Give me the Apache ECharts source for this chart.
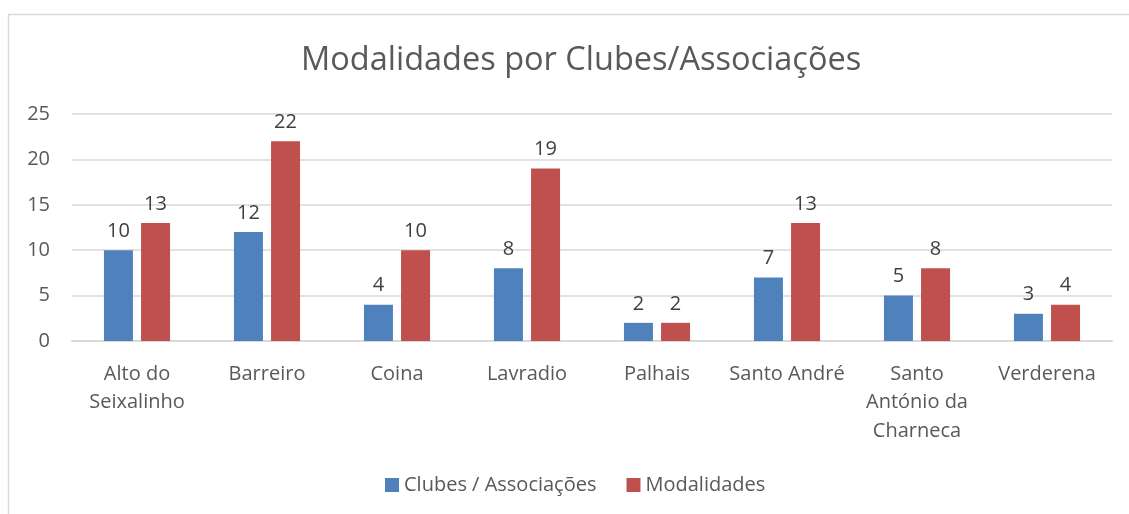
<!DOCTYPE html>
<html>
<head>
<meta charset="utf-8">
<script src="https://cdn.jsdelivr.net/npm/echarts@6/dist/echarts.min.js"></script>
<style>
  html, body { margin: 0; padding: 0; background: #fff; }
  #chart { width: 1129px; height: 514px; }
</style>
</head>
<body>
<div id="chart"></div>
<script>
const categories = ['Alto do\nSeixalinho', 'Barreiro', 'Coina', 'Lavradio', 'Palhais', 'Santo André', 'Santo\nAntónio da\nCharneca', 'Verderena']
const clubes = [10, 12, 4, 8, 2, 7, 5, 3]
const modalidades = [13, 22, 10, 19, 2, 13, 8, 4]
const yTicks = [0, 5, 10, 15, 20, 25]

const font = '"Open Sans", "Noto Sans", sans-serif'
const chart = echarts.init(document.getElementById('chart'))

const barLabel = {
  show: true,
  position: 'top',
  distance: 9,
  color: '#404040',
  fontSize: 20,
  fontFamily: font
}

chart.setOption({
  animation: false,
  title: {
    text: 'Modalidades por Clubes/Associações',
    left: 296,
    top: 39,
    textStyle: { color: '#595959', fontSize: 32.5, fontWeight: 'normal', fontFamily: font }
  },
  graphic: [{
    type: 'rect',
    shape: { x: 8.5, y: 14.5, width: 1140, height: 520 },
    style: { fill: 'none', stroke: '#d9d9d9', lineWidth: 1.5 },
    silent: true
  }],
  legend: {
    bottom: 14,
    left: 380,
    itemWidth: 14,
    itemHeight: 14,
    itemGap: 30,
    icon: 'rect',
    textStyle: { color: '#595959', fontSize: 20, fontFamily: font },
    data: ['Clubes / Associações', 'Modalidades']
  },
  grid: { left: 72, right: 17, top: 114, bottom: 173 },
  xAxis: {
    type: 'category',
    data: categories,
    axisLine: { lineStyle: { color: '#d9d9d9', width: 2 } },
    axisTick: { show: false },
    axisLabel: { color: '#595959', fontSize: 20, fontFamily: font, margin: 19, lineHeight: 28.5, interval: 0 }
  },
  yAxis: {
    type: 'value',
    min: yTicks[0],
    max: yTicks[yTicks.length - 1],
    interval: 5,
    axisLine: { show: false },
    axisTick: { show: false },
    splitLine: { lineStyle: { color: '#d9d9d9', width: 1.5 } },
    axisLabel: { color: '#595959', fontSize: 20, fontFamily: font, margin: 22 }
  },
  series: [
    {
      name: 'Clubes / Associações',
      type: 'bar',
      data: clubes,
      barWidth: 29,
      barGap: '28%',
      itemStyle: { color: '#4f81bd' },
      label: barLabel
    },
    {
      name: 'Modalidades',
      type: 'bar',
      data: modalidades,
      barWidth: 29,
      itemStyle: { color: '#c0504d' },
      label: barLabel
    }
  ]
})
</script>
</body>
</html>
